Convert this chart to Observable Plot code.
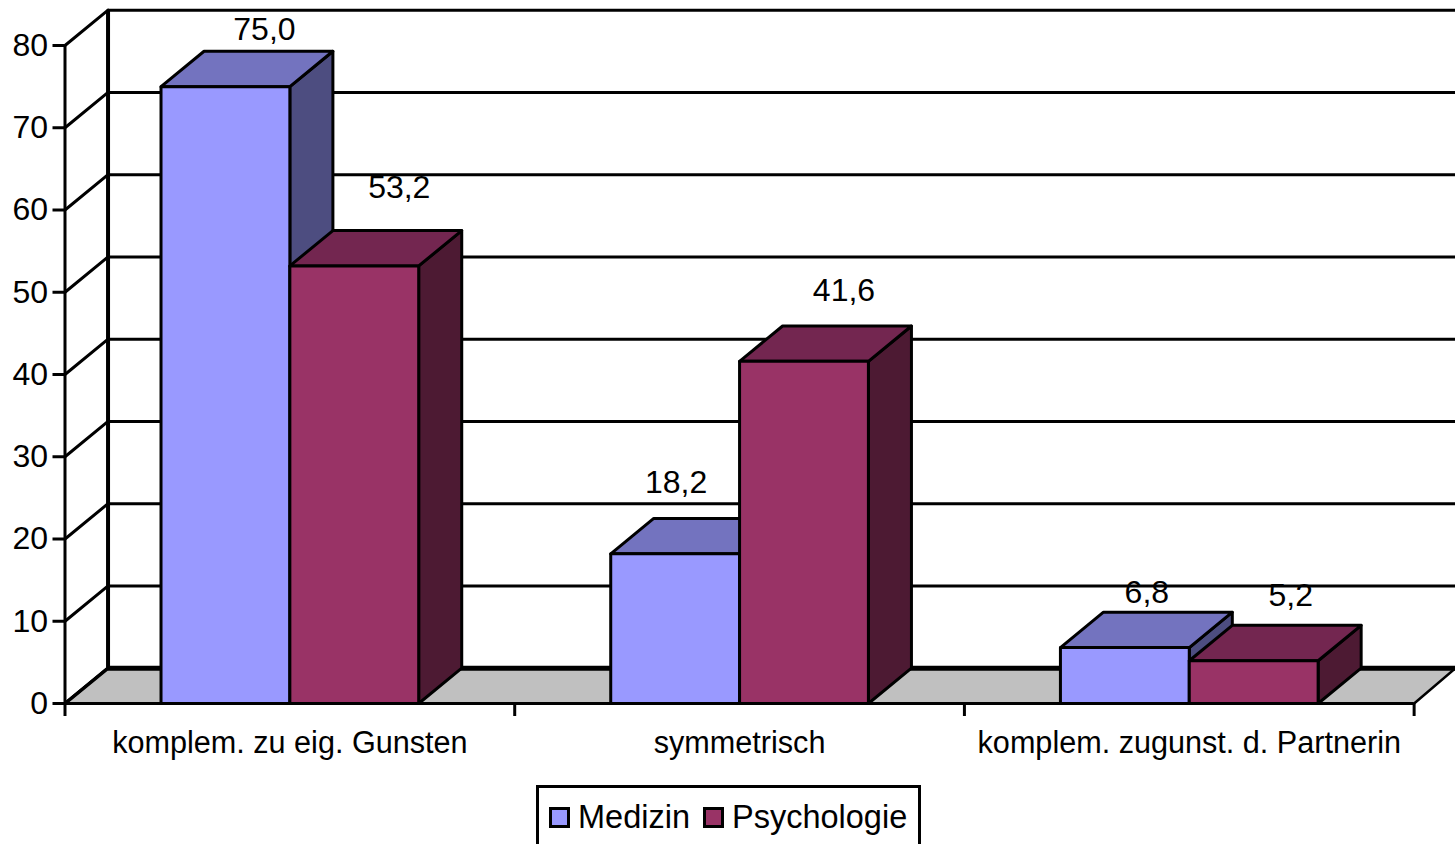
<!DOCTYPE html>
<html lang="de">
<head>
<meta charset="utf-8">
<title>Medizin und Psychologie</title>
<script src="https://cdn.jsdelivr.net/npm/d3@7"></script>
<script src="https://cdn.jsdelivr.net/npm/@observablehq/plot@0.6"></script>
<style>
  html, body { margin: 0; padding: 0; background: #fff; overflow: hidden; }
  body { width: 1455px; height: 844px; font-family: "Liberation Sans", Arial, sans-serif; color: #000; }
  svg { display: block; }
  .legend {
    box-sizing: border-box; position: relative; left: 536px; width: 385px; height: 59px;
    border: 3px solid #000; border-bottom: 0; display: flex; align-items: center;
    padding: 2px 0 0 10px; font-size: 32.5px; line-height: 1; background: #fff;
  }
  .legend i {
    box-sizing: border-box; display: inline-block; width: 21px; height: 21px;
    border: 3px solid #000; margin-right: 8px;
  }
  .legend span { display: inline-flex; align-items: center; margin-right: 13px; }
</style>
</head>
<body>
<div id="chart"></div>
<div class="legend" id="legend"></div>
<script>
// Share of each constellation by field of study
const categories = ["komplem. zu eig. Gunsten", "symmetrisch", "komplem. zugunst. d. Partnerin"];
const seriesNames = ["Medizin", "Psychologie"];
const medizin = [75.0, 18.2, 6.8];
const psychologie = [53.2, 41.6, 5.2];
const yTicks = [0, 10, 20, 30, 40, 50, 60, 70, 80];

// Face colours per series: front, top, side
const shades = [
  {front: "#9999ff", top: "#7373bf", side: "#4d4d80"},
  {front: "#993366", top: "#732650", side: "#4d1a33"}
];

// The oblique depth of the 3D box, in data units of each axis
const depthX = 0.0957;
const depthY = 4.3;
const barWidth = 0.2865;
const xEnd = 3.092;

const values = [medizin, psychologie];

// One closed polygon per visible bar face, painted back to front
const barFaces = categories.flatMap((_, c) =>
  seriesNames.flatMap((_, s) => {
    const x0 = c + 0.5 + (s - 1) * barWidth;
    const x1 = x0 + barWidth;
    const v = values[s][c];
    return [
      {fill: shades[s].side, pts: [[x1, 0], [x1 + depthX, depthY], [x1 + depthX, v + depthY], [x1, v]]},
      {fill: shades[s].top, pts: [[x0, v], [x0 + depthX, v + depthY], [x1 + depthX, v + depthY], [x1, v]]},
      {fill: shades[s].front, pts: [[x0, 0], [x0, v], [x1, v], [x1, 0]]}
    ];
  })
);

const face = (pts, options) =>
  Plot.line(pts, {x: "0", y: "1", curve: "linear-closed", strokeLinejoin: "round", ...options});

// Hand-placed value labels, given as pixel nudges from each bar's top front centre
const labelNudges = [
  [[39, -57], [45, -78]],
  [[1, -71], [40, -71]],
  [[22, -55], [37, -65]]
];

const valueLabels = categories.flatMap((_, c) =>
  seriesNames.map((_, s) =>
    Plot.text([values[s][c]], {
      x: () => c + 0.5 + (s - 0.5) * barWidth,
      y: (d) => d,
      text: (d) => d.toFixed(1).replace(".", ","),
      dx: labelNudges[c][s][0],
      dy: labelNudges[c][s][1],
      fontSize: 32
    })
  )
);

const chart = Plot.plot({
  width: 1455,
  height: 785,
  marginLeft: 64.5,
  marginRight: 0,
  marginTop: 45,
  marginBottom: 82,
  style: {fontFamily: "'Liberation Sans', Arial, sans-serif", color: "#000", background: "#fff"},
  x: {type: "linear", domain: [0, xEnd]},
  y: {type: "linear", domain: [0, 80]},
  marks: [
    // Back wall and side wall gridlines
    Plot.ruleY(yTicks.slice(1), {y: (d) => d + depthY, x1: depthX, x2: xEnd, stroke: "#000", strokeWidth: 3, strokeOpacity: 1, clip: false}),
    yTicks.map((t) => Plot.line([[0, t], [depthX, t + depthY]], {x: "0", y: "1", stroke: "#000", strokeWidth: 3})),
    Plot.ruleX([depthX], {y1: depthY, y2: 80 + depthY, stroke: "#000", strokeWidth: 4}),
    // Floor
    face([[0, 0], [depthX, depthY], [xEnd, depthY], [3, 0]], {fill: "#c0c0c0", stroke: "#000", strokeWidth: 2.5}),
    Plot.ruleY([depthY], {x1: depthX, x2: xEnd, stroke: "#000", strokeWidth: 5}),
    Plot.line([[0, 0], [depthX, depthY]], {x: "0", y: "1", stroke: "#000", strokeWidth: 3.5}),
    // Axes
    Plot.ruleX([0], {y1: 0, y2: 80, stroke: "#000", strokeWidth: 3}),
    Plot.axisY({ticks: yTicks, tickSize: 12, tickPadding: 5, fontSize: 32, strokeWidth: 3, strokeOpacity: 1, label: null}),
    Plot.axisX({ticks: [0, 1, 2, 3], tickSize: 13, tickFormat: () => "", strokeWidth: 3, strokeOpacity: 1, label: null}),
    Plot.axisX({ticks: [0.5, 1.5, 2.5], tickSize: 0, tickPadding: 28, tickFormat: (d) => categories[d - 0.5], fontSize: 30.6, label: null}),
    // Bars
    barFaces.map((f) => face(f.pts, {fill: f.fill, stroke: "#000", strokeWidth: 3})),
    // Front edge of the floor, over the bar feet
    Plot.ruleY([0], {x1: 0, x2: 3, stroke: "#000", strokeWidth: 3}),
    valueLabels
  ]
});
document.getElementById("chart").append(chart);

// Series key below the plot
const legend = document.getElementById("legend");
seriesNames.forEach((name, s) => {
  const item = document.createElement("span");
  const swatch = document.createElement("i");
  swatch.style.background = shades[s].front;
  item.append(swatch, name);
  legend.append(item);
});
</script>
</body>
</html>
